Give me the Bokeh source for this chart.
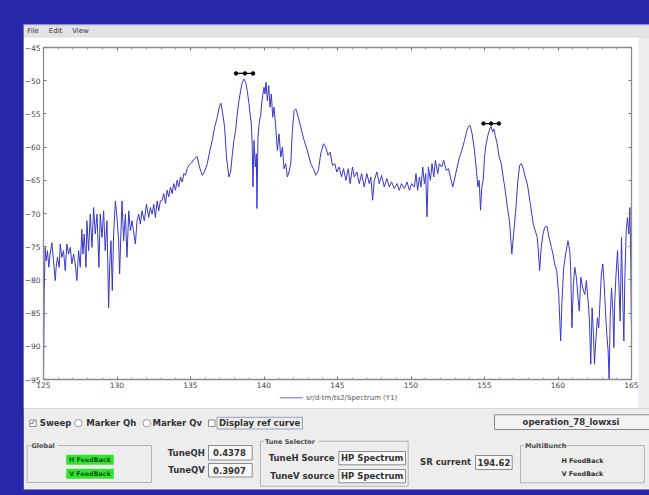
from bokeh.plotting import figure
from bokeh.models import Range1d, LinearAxis, FixedTicker
from bokeh.core.properties import value
from bokeh.embed import file_html
from bokeh.resources import INLINE

# ---------------- data ----------------
spectrum_freq = [
    125.00, 125.05, 125.11, 125.18, 125.27, 125.36, 125.45, 125.57, 125.68, 125.80,
    125.86, 125.95, 126.07, 126.14, 126.25, 126.36, 126.48, 126.59, 126.70, 126.82,
    126.93, 127.05, 127.16, 127.27, 127.39, 127.50, 127.61, 127.68, 127.77, 127.89,
    127.95, 128.07, 128.18, 128.30, 128.41, 128.52, 128.64, 128.77, 128.86, 128.98,
    129.09, 129.20, 129.32, 129.43, 129.50, 129.59, 129.68, 129.77, 129.89, 130.00,
    130.11, 130.18, 130.27, 130.34, 130.45, 130.57, 130.68, 130.80, 130.91, 131.02,
    131.25, 131.36, 131.48, 131.59, 131.70, 131.86, 132.00, 132.16, 132.27, 132.39,
    132.50, 132.61, 132.73, 132.84, 132.95, 133.07, 133.18, 133.30, 133.41, 133.52,
    133.64, 133.75, 133.86, 133.98, 134.09, 134.20, 134.32, 134.43, 134.55, 134.66,
    134.77, 134.89, 135.00, 135.11, 135.27, 135.45, 135.61, 135.80, 135.95, 136.14,
    136.32, 136.48, 136.64, 136.82, 136.98, 137.07, 137.18, 137.32, 137.45, 137.61,
    137.73, 137.84, 137.95, 138.07, 138.18, 138.30, 138.41, 138.52, 138.64, 138.75,
    138.86, 138.98, 139.05, 139.14, 139.20, 139.25, 139.32, 139.41, 139.48, 139.52,
    139.59, 139.68, 139.77, 139.84, 139.91, 140.00, 140.07, 140.14, 140.23, 140.32,
    140.41, 140.50, 140.59, 140.68, 140.80, 140.91, 141.02, 141.14, 141.25, 141.36,
    141.48, 141.59, 141.70, 141.82, 141.93, 142.05, 142.16, 142.27, 142.50, 142.73,
    142.95, 143.18, 143.36, 143.52, 143.70, 143.86, 144.05, 144.20, 144.36, 144.50,
    144.66, 144.82, 144.95, 145.11, 145.27, 145.41, 145.57, 145.73, 145.86, 146.02,
    146.14, 146.32, 146.48, 146.64, 146.82, 147.00, 147.16, 147.27, 147.39, 147.50,
    147.68, 147.84, 148.00, 148.18, 148.36, 148.52, 148.68, 148.86, 149.05, 149.20,
    149.36, 149.55, 149.73, 149.89, 150.05, 150.23, 150.34, 150.45, 150.57, 150.68,
    150.80, 150.91, 151.00, 151.09, 151.18, 151.32, 151.43, 151.55, 151.66, 151.82,
    151.93, 152.09, 152.23, 152.39, 152.55, 152.73, 152.84, 152.95, 153.14, 153.30,
    153.45, 153.64, 153.80, 153.91, 154.02, 154.16, 154.32, 154.45, 154.55, 154.64,
    154.73, 154.82, 154.91, 155.00, 155.11, 155.23, 155.36, 155.45, 155.55, 155.64,
    155.73, 155.86, 156.00, 156.14, 156.27, 156.41, 156.55, 156.70, 156.86, 157.00,
    157.14, 157.27, 157.39, 157.50, 157.64, 157.77, 157.91, 158.05, 158.18, 158.32,
    158.45, 158.59, 158.68, 158.75, 158.86, 158.98, 159.09, 159.25, 159.39, 159.55,
    159.66, 159.77, 159.91, 160.05, 160.18, 160.27, 160.39, 160.52, 160.68, 160.80,
    160.86, 160.95, 161.05, 161.14, 161.25, 161.36, 161.45, 161.55, 161.68, 161.82,
    161.93, 162.05, 162.14, 162.23, 162.32, 162.41, 162.48, 162.57, 162.68, 162.77,
    162.86, 162.95, 163.05, 163.14, 163.23, 163.32, 163.41, 163.48, 163.55, 163.64,
    163.73, 163.80, 163.86, 163.95, 164.05, 164.14, 164.23, 164.32, 164.41, 164.48,
    164.55, 164.64, 164.73, 164.82, 164.89, 164.95, 165.00,
]
spectrum_db = [
    -95.0, -81.6, -75.1, -77.1, -75.6, -78.1, -76.1, -74.4, -77.1, -80.1,
    -78.1, -76.6, -78.1, -74.6, -76.6, -75.6, -78.6, -74.6, -76.1, -75.1,
    -77.6, -76.1, -77.6, -80.1, -75.6, -78.1, -72.4, -76.1, -73.1, -78.1,
    -71.1, -75.6, -70.1, -75.1, -69.1, -73.1, -70.1, -78.1, -70.1, -73.6,
    -69.6, -75.6, -71.1, -84.2, -78.1, -74.1, -81.6, -73.1, -68.1, -70.6,
    -74.1, -79.1, -72.6, -68.1, -74.1, -70.1, -76.6, -69.6, -72.6, -71.1,
    -74.6, -71.1, -70.1, -71.6, -69.6, -71.1, -68.6, -70.6, -69.1, -70.1,
    -68.6, -70.6, -68.1, -69.6, -68.1, -68.0, -67.0, -68.5, -66.5, -67.5,
    -66.0, -67.0, -65.5, -66.5, -65.0, -66.0, -64.5, -65.25, -64.0, -64.25,
    -63.25, -62.75, -62.5, -62.25, -61.75, -61.4, -63.0, -64.25, -63.75, -62.5,
    -60.5, -59.0, -57.0, -55.5, -53.75, -53.4, -54.75, -57.0, -61.5, -64.5,
    -63.75, -61.25, -59.0, -57.5, -55.0, -53.0, -51.5, -50.25, -49.75, -50.25,
    -51.5, -53.5, -55.0, -56.5, -60.0, -66.0, -59.0, -63.0, -61.0, -69.25,
    -58.5, -56.25, -55.25, -53.5, -52.25, -51.0, -52.0, -50.25, -53.0, -50.75,
    -54.0, -52.0, -55.5, -54.0, -57.0, -60.5, -58.0, -61.5, -60.0, -63.25,
    -62.5, -64.5, -63.75, -62.5, -57.5, -54.5, -54.25, -55.0, -57.0, -59.0,
    -60.5, -62.5, -63.25, -64.25, -63.5, -61.0, -59.5, -60.0, -61.25, -60.75,
    -62.75, -62.5, -63.75, -63.0, -64.5, -63.25, -65.0, -63.25, -65.5, -63.0,
    -64.5, -63.75, -65.5, -64.0, -66.0, -64.0, -65.5, -64.5, -68.0, -65.0,
    -63.75, -65.5, -64.25, -66.0, -64.75, -66.0, -65.25, -66.25, -65.5, -66.5,
    -65.5, -66.25, -65.25, -66.5, -65.5, -66.0, -64.0, -66.5, -64.5, -66.0,
    -63.0, -65.5, -64.0, -70.5, -63.0, -65.0, -62.5, -64.5, -62.0, -64.0,
    -62.5, -63.0, -62.0, -63.5, -63.25, -65.0, -66.0, -65.0, -63.0, -61.5,
    -60.5, -59.0, -57.5, -56.9, -56.75, -58.0, -60.5, -63.5, -66.0, -65.0,
    -69.5, -66.0, -65.0, -61.5, -59.5, -58.25, -57.25, -56.9, -57.75, -57.25,
    -58.25, -59.5, -61.5, -62.5, -64.5, -66.5, -69.0, -71.1, -76.1, -72.6,
    -69.1, -65.0, -62.75, -62.5, -63.25, -64.5, -65.5, -67.5, -69.5, -71.6,
    -72.6, -73.6, -76.1, -78.6, -75.1, -73.1, -72.1, -71.9, -73.6, -75.1,
    -76.1, -77.6, -78.6, -82.2, -89.2, -83.2, -78.1, -76.1, -74.1, -75.6,
    -78.1, -87.2, -80.6, -78.1, -79.6, -82.7, -84.7, -79.6, -81.2, -82.2,
    -80.1, -83.2, -86.2, -92.7, -84.2, -88.2, -92.7, -89.2, -85.7, -87.2,
    -83.2, -79.1, -77.6, -80.6, -84.7, -88.2, -90.7, -95.0, -85.7, -81.2,
    -84.7, -90.2, -83.2, -79.1, -75.6, -80.6, -86.2, -73.6, -83.2, -89.2,
    -79.6, -72.6, -70.6, -73.1, -69.1, -77.1, -88.2,
]
marker_qh_freq = [138.1, 138.7, 139.25]
marker_qh_db = [-48.9, -48.9, -48.9]
marker_qv_freq = [154.93, 155.45, 155.98]
marker_qv_db = [-56.45, -56.45, -56.45]

x_ticks = [125, 130, 135, 140, 145, 150, 155, 160, 165]
x_minor_ticks = [v for v in range(125, 166) if v % 5 != 0]
y_ticks = [-45, -50, -55, -60, -65, -70, -75, -80, -85, -90, -95]

legend_label = "sr/d-tm/ts2/Spectrum (Y1)"
menu_items = ["File", "Edit", "View"]
tune_qh = "0.4378"
tune_qv = "0.3907"
tune_h_source = "HP Spectrum"
tune_v_source = "HP Spectrum"
sr_current = "194.62"
config_name = "operation_78_lowxsi"

# ---------------- styling / geometry ----------------
BLUE = "#2727a9"
WIN = "#ededed"
FONT = "DejaVu Sans"
FRAME = "#8c8c8c"
LINE = "#3838c8"
W, H = 649, 495
# where the plot area of the spectrum sits in the window (pixels)
AREA_L, AREA_R, AREA_T, AREA_B = 43, 631, 47, 379

x_lo, x_hi = x_ticks[0], x_ticks[-1]
y_hi, y_lo = y_ticks[0], y_ticks[-1]
kx = (AREA_R - AREA_L) / (x_hi - x_lo)
ky = (AREA_B - AREA_T) / (y_hi - y_lo)

# one canvas for the whole window; the default ranges are window pixels
p = figure(width=W, height=H, x_range=Range1d(0, W), y_range=Range1d(H, 0),
           x_axis_type=None, y_axis_type=None, min_border=0,
           output_backend="svg", toolbar_location=None)
p.background_fill_color = BLUE
p.border_fill_color = BLUE
p.outline_line_color = None
# data ranges of the spectrum, placed so that the plot area is where it is in the window
p.extra_x_ranges = {"freq": Range1d(x_lo - AREA_L / kx, x_hi + (W - AREA_R) / kx)}
p.extra_y_ranges = {"db": Range1d(y_lo - (H - AREA_B) / ky, y_hi + AREA_T / ky)}


def box(l, t, r, b, fill=None, line=None, lw=1):
    p.quad(left=[l], right=[r], top=[t], bottom=[b],
           fill_color=fill if fill else "white", fill_alpha=1 if fill else 0,
           line_color=line if line else None, line_width=lw)


def text(x, y, s, size="8.5px", bold=True, color="#333333", align="left"):
    p.text(x=[x], y=[y], text=[s], text_font=value(FONT), text_font_size=size,
           text_font_style="bold" if bold else "normal", text_color=color,
           text_align=align, text_baseline="middle")


# ---------------- window ----------------
box(23.3, 24.3, W, 489, WIN)
box(23.3, 24.3, W, 37, "#e3e3e3")
box(23.3, 24.3, W, 25.3, "#c9c9ee")
box(23.3, 36.2, W, 37, "#d4d4d4")
for word, xpos in zip(menu_items, [26.7, 48.3, 71.7]):
    text(xpos, 30.9, word, size="7px", bold=False, color="#333333")
box(23.3, 37, 638, 407.6, "white")
box(23.3, 407.6, W, 408.6, "#d8d8d8")

# ---------------- spectrum ----------------
spec = dict(x_range_name="freq", y_range_name="db")
p.line(spectrum_freq, spectrum_db, line_color=LINE, line_width=1, **spec)
p.line(marker_qh_freq, marker_qh_db, line_color="black", line_width=1.2, **spec)
p.scatter(marker_qh_freq, marker_qh_db, size=3.5, color="black", **spec)
p.line(marker_qv_freq, marker_qv_db, line_color="black", line_width=1.2, **spec)
p.scatter(marker_qv_freq, marker_qv_db, size=3.5, color="black", **spec)


def axis(side, fixed, labels):
    horizontal = side in ("below", "above")
    if horizontal:
        ticker = FixedTicker(ticks=x_ticks, minor_ticks=x_minor_ticks)
        bounds = (x_lo, x_hi)
    else:
        ticker = FixedTicker(ticks=y_ticks)
        bounds = (y_lo, y_hi)
    ax = LinearAxis(ticker=ticker, bounds=bounds, fixed_location=fixed,
                    x_range_name="freq", y_range_name="db",
                    axis_line_color=FRAME, axis_line_width=1.3,
                    major_tick_in=3, major_tick_out=0, minor_tick_in=2, minor_tick_out=0,
                    major_tick_line_color="#777777", minor_tick_line_color="#9a9a9a")
    if labels:
        ax.major_label_text_font = FONT
        ax.major_label_text_font_size = "7.5px"
        ax.major_label_text_color = "#444444"
        ax.major_label_standoff = 2 if horizontal else 3
    else:
        ax.major_label_text_font_size = "0px"
        ax.major_label_text_color = None
        ax.major_label_standoff = 0
    p.add_layout(ax, side)


axis("below", y_lo, True)
axis("left", x_lo, True)
axis("above", y_hi, False)
axis("right", x_hi, False)

# legend
p.line(x=[279.3, 302.7], y=[397.3, 397.3], line_color="#6b6bc0", line_width=1)
text(305.5, 397.3, legend_label, size="7px", bold=False, color="#555555")

# ---------------- control panel ----------------
row_y = 422.7
box(29.3, 419.5, 35.7, 426, "white", "#8a8a8a")
text(32.5, row_y, "\u2713", size="7px", bold=True, color="#333333", align="center")
text(39.3, row_y, "Sweep")
p.scatter(x=[77.8, 146.3], y=[row_y, row_y], size=7.5, marker="circle",
          fill_color="white", line_color="#9a9a9a", line_width=1)
text(85.7, row_y, "Marker Qh")
text(152.0, row_y, "Marker Qv")
box(208, 419.5, 214.5, 426, "white", "#8a8a8a")
box(216.5, 416.8, 302, 428.5, None, "#9aa0b8")
text(218.5, row_y, "Display ref curve")

box(494, 414.3, 652, 429, "#f3f3f3", "#8a8a8a")
text(570.5, 421.8, config_name, align="center")

# Global group
box(26.7, 445, 151, 482, None, "#b4b4b4")
box(30, 442, 57, 448, WIN)
text(31, 445.3, "Global", size="6.5px", color="#4a4a4a")
box(65.7, 454.3, 113.3, 464.3, "#2ee62e")
text(89.5, 459.5, "H FeedBack", size="6.4px", color="#1d4d1d", align="center")
box(65.7, 468.3, 113.3, 478.3, "#2ee62e")
text(89.5, 473.5, "V FeedBack", size="6.4px", color="#1d4d1d", align="center")

# tune values
text(204.3, 452.4, "TuneQH", align="right")
box(208, 445, 251.7, 459.5, "#f8f8f8", "#8c8c8c")
text(212.5, 452.4, tune_qh)
text(204.3, 469.6, "TuneQV", align="right")
box(208, 463, 251.7, 476.5, "#f8f8f8", "#8c8c8c")
text(212.5, 469.8, tune_qv)

# Tune Selector group
box(260, 440.7, 407.7, 485.7, None, "#b4b4b4")
box(263.5, 437.5, 318, 444, WIN)
text(264.5, 441.0, "Tune Selector", size="6.5px", color="#4a4a4a")
text(334, 457.7, "TuneH Source", align="right")
box(338.3, 451, 405, 464.3, "#f8f8f8", "#8c8c8c")
text(340.5, 457.7, tune_h_source)
text(334, 475.7, "TuneV source", align="right")
box(338.3, 469, 405, 482.3, "#f8f8f8", "#8c8c8c")
text(340.5, 475.7, tune_v_source)

# SR current
text(470.5, 461.8, "SR current", align="right")
box(475, 455, 511.7, 469, "#f8f8f8", "#8c8c8c")
text(477, 462.0, sr_current)

# MultiBunch group
box(520, 445, 644, 482.3, None, "#b4b4b4")
box(523.5, 442, 561, 448, WIN)
text(524.5, 445.3, "MultiBunch", size="6.5px", color="#4a4a4a")
text(582, 460, "H FeedBack", size="6.4px", color="#333333", align="center")
text(582, 473.3, "V FeedBack", size="6.4px", color="#333333", align="center")

try:
    from bokeh.models import GlobalInlineStyleSheet
    p.stylesheets = [GlobalInlineStyleSheet(css="html, body { background: %s; }" % BLUE)]
except Exception:
    pass

open("out.html", "w").write(file_html(p, INLINE))
